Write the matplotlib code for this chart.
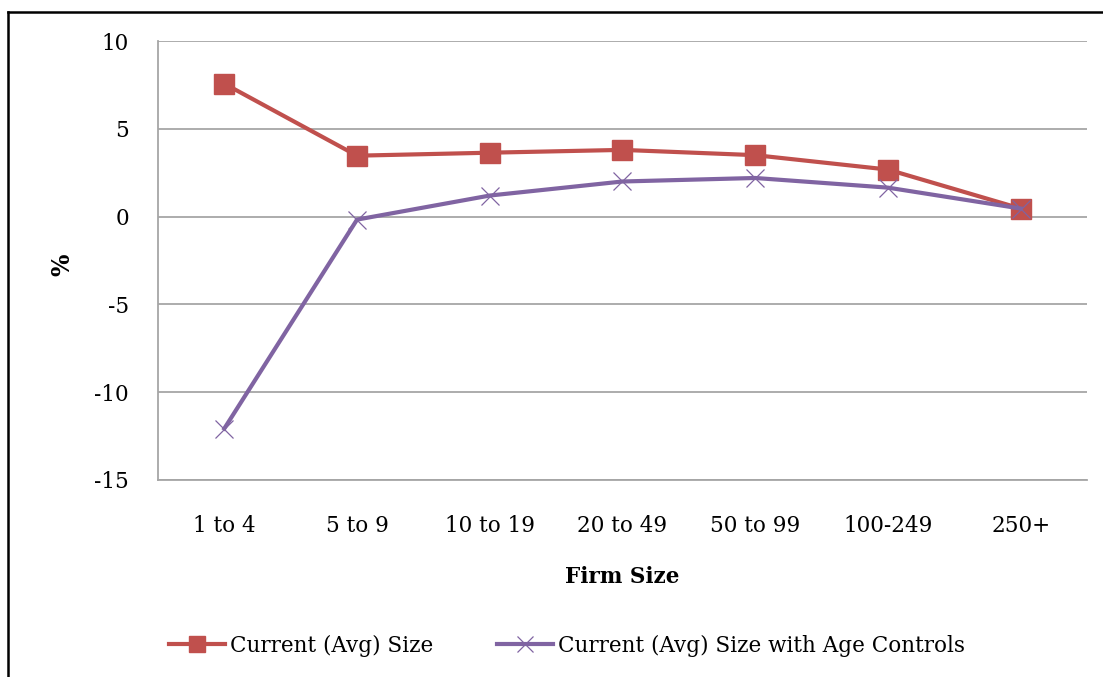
import matplotlib.pyplot as plt
from matplotlib.lines import Line2D

plt.rcParams['font.family'] = ['DejaVu Serif']
plt.rcParams['axes.unicode_minus'] = False

# data
firm_sizes = ['1 to 4', '5 to 9', '10 to 19', '20 to 49', '50 to 99', '100-249', '250+']
avg_size = [7.57, 3.47, 3.64, 3.8, 3.5, 2.68, 0.46]
avg_size_age = [-12.07, -0.17, 1.2, 2.0, 2.2, 1.65, 0.46]
y_ticks = [-15, -10, -5, 0, 5, 10]

fig = plt.figure(figsize=(11.03, 6.77), dpi=100)
ax = fig.add_axes([0.1432, 0.291, 0.8423, 0.6484])

x = range(len(firm_sizes))
ax.plot(x, avg_size, color='#C0504D', lw=3, marker='s', markersize=14,
        label='Current (Avg) Size', zorder=3)
ax.plot(x, avg_size_age, color='#8064A2', lw=3, marker='x', markersize=13,
        markeredgewidth=0.9, label='Current (Avg) Size with Age Controls', zorder=4)

ax.set_xlim(-0.5, len(firm_sizes) - 0.5)
ax.set_ylim(-15, 10)
ax.set_yticks(y_ticks)
ax.set_xticks(list(x))
ax.set_xticklabels(firm_sizes)
ax.tick_params(labelsize=15.5, length=0)
ax.tick_params(axis='y', pad=21)
ax.tick_params(axis='x', pad=25)
ax.yaxis.grid(True, color='#A6A6A6', lw=1.3)
ax.set_axisbelow(True)
for s in ['top', 'right']:
    ax.spines[s].set_visible(False)
for s in ['left', 'bottom']:
    ax.spines[s].set_color('#A6A6A6')
    ax.spines[s].set_linewidth(1.3)

ax.set_xlabel('Firm Size', fontsize=15.5, fontweight='bold', labelpad=21)
fig.text(62 / 1103, 1 - 265 / 677, '%', rotation=90, fontsize=17, fontweight='bold',
         ha='center', va='center')

fig.legend(loc='center', bbox_to_anchor=(0.514, 0.046), ncol=2, frameon=False,
           fontsize=15.5, handlelength=2.6, handletextpad=0.2, columnspacing=3,
           markerscale=0.85)

# outer frame (left and top)
fig.add_artist(Line2D([8 / 1103, 8 / 1103], [0, 1 - 12 / 677], color='black', lw=1.8))
fig.add_artist(Line2D([8 / 1103, 1], [1 - 12 / 677, 1 - 12 / 677], color='black', lw=1.8))

fig.savefig('out.png', dpi=100)
